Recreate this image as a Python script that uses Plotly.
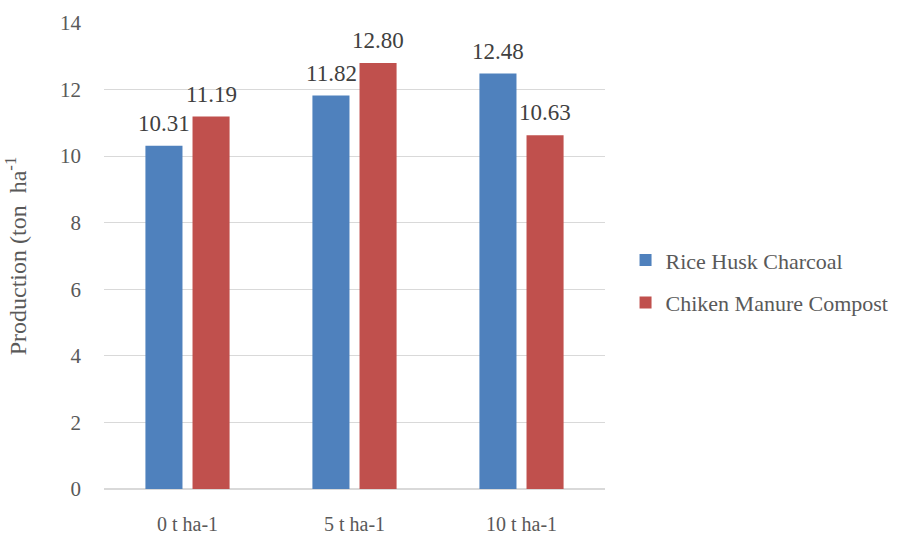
import plotly.graph_objects as go

categories = ["0 t ha-1", "5 t ha-1", "10 t ha-1"]
rice_husk = [10.31, 11.82, 12.48]
chicken_manure = [11.19, 12.80, 10.63]
series_names = ["Rice Husk Charcoal", "Chiken Manure Compost"]

FONT = "Times New Roman"

fig = go.Figure()
fig.add_trace(go.Bar(
    x=categories, y=rice_husk, name=series_names[0],
    marker=dict(color="#4f81bd", line=dict(width=0)),
    legendgroup="a",
))
fig.add_trace(go.Bar(
    x=categories, y=chicken_manure, name=series_names[1],
    marker=dict(color="#c0504d", line=dict(width=0)),
    legendgroup="b",
))

# data labels above each bar
for vals, shift in ((rice_husk, -23.5), (chicken_manure, 23.5)):
    for c, v in zip(categories, vals):
        fig.add_annotation(
            x=c, y=v, xref="x", yref="y", text=f"{v:.2f}", showarrow=False,
            xshift=shift, yanchor="bottom", yshift=8,
            font=dict(family=FONT, size=23, color="#404040"),
        )

fig.update_layout(
    width=907, height=538,
    margin=dict(l=104, r=302, t=23, b=49, autoexpand=False),
    paper_bgcolor="white", plot_bgcolor="white",
    barmode="group", bargap=0.436, bargroupgap=0.213,
    font=dict(family=FONT, color="#595959"),
    legend=dict(
        x=1.041, y=0.445, xanchor="left", yanchor="middle",
        font=dict(family=FONT, size=22, color="#595959"),
        traceorder="grouped", tracegroupgap=11,
        itemwidth=30,
    ),
)
fig.update_xaxes(
    showgrid=False, showline=True, linecolor="#d9d9d9", linewidth=1,
    tickfont=dict(family=FONT, size=20, color="#595959"),
    ticks="", ticklabelstandoff=17, automargin=False,
)
fig.update_yaxes(
    range=[0, 14], dtick=2, showgrid=True, gridcolor="#d9d9d9", gridwidth=1,
    zeroline=True, zerolinecolor="#d9d9d9", showline=False,
    tickfont=dict(family=FONT, size=21, color="#595959"),
    ticks="", ticklabelstandoff=22, automargin=False,
    title=dict(text="Production (ton  ha<sup>-1</sup>",
               font=dict(family=FONT, size=24, color="#595959"), standoff=26),
)

fig.write_html("out.html")
